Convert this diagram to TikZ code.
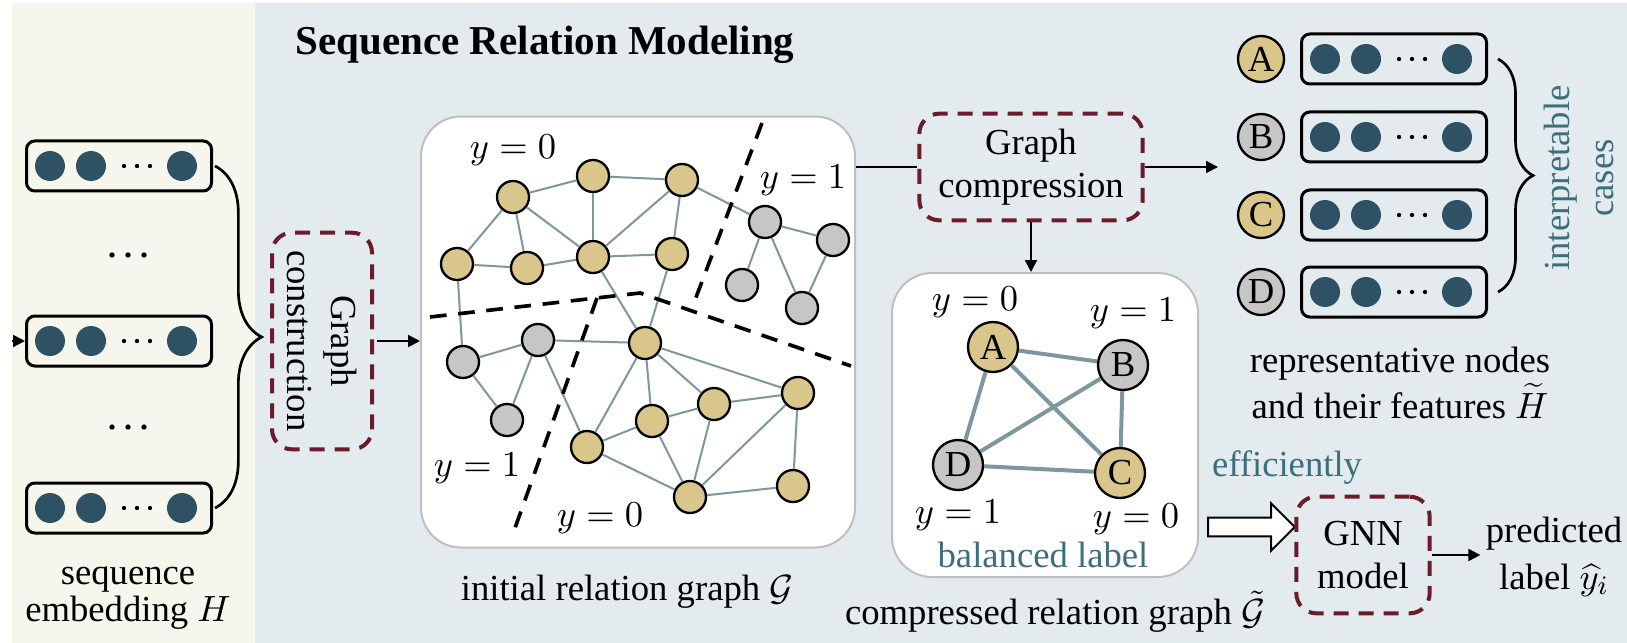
\documentclass[tikz,border=0pt]{standalone}
\usepackage{fontspec}
\setmainfont{Liberation Serif}
\usetikzlibrary{arrows.meta, positioning, calc, decorations.pathreplacing, shapes.arrows}
\definecolor{ccream}{HTML}{F7F6EC}
\definecolor{cpanel}{HTML}{E3EBEE}
\definecolor{cyellow}{HTML}{D9C68A}
\definecolor{cgrey}{HTML}{C6C6C6}
\definecolor{cdot}{HTML}{2E5263}
\definecolor{cedge}{HTML}{7E969D}
\definecolor{cwine}{HTML}{6B1C2B}
\definecolor{cteal}{HTML}{3C6F7C}
\definecolor{cframe}{HTML}{BFBFBF}
\tikzset{
  every picture/.style={x=0.3pt, y=-0.3pt, line width=0.6pt},
  chip/.style={draw, line width=0.9pt, rounded corners=2.5pt, minimum width=55.5pt, minimum height=15pt, inner sep=0pt},
  featdot/.style={circle, fill=cdot, minimum size=9pt, inner sep=0pt},
  gnode/.style={circle, draw, line width=0.7pt, fill=#1, minimum size=9.6pt, inner sep=0pt},
  gnode/.default=cyellow,
  keynode/.style={circle, draw, line width=0.7pt, fill=#1, minimum size=15pt, inner sep=0pt},
  keynode/.default=cyellow,
  rel/.style={draw=cedge, line width=0.6pt},
  cut/.style={line width=1.1pt, dash pattern=on 5pt off 3.5pt},
  dashbox/.style={draw=cwine, line width=1.2pt, dash pattern=on 4.5pt off 3pt, rounded corners=6pt, align=center, inner sep=0pt},
  frame/.style={draw=cframe, fill=white, line width=0.6pt, rounded corners=12pt, inner sep=0pt},
  arrow/.style={-{Triangle[length=3.6pt, width=3.6pt]}, line width=0.6pt},
  hollow/.style={single arrow, draw, fill=white, line width=0.6pt, inner xsep=0pt, inner ysep=2.5pt, single arrow head extend=4.3pt, minimum height=26pt},
  note/.style={text=cteal},
}

\begin{document}
\begin{tikzpicture}[every node/.append style={font=\fontsize{11}{13}\selectfont}]
  \useasboundingbox (0,0) rectangle (1627,643);
  % ---- backdrop panels ----
  \fill[white] (0,0) rectangle (1627,643);
  \fill[ccream] (12,3) rectangle (255,643);
  \fill[cpanel] (255,3) rectangle (1627,643);
  \node[font=\fontsize{12.3}{14}\selectfont\bfseries] (title) at (545,45) {Sequence Relation Modeling};

  % ---- sequence embedding (left) ----
  \node[chip] (e1) at (119,166) {};
  \node[chip] (e2) at (119,341) {};
  \node[chip] (e3) at (119,508) {};
  \foreach \y in {255,427}
    \foreach \x in {112,128,144} \fill (\x,\y) circle (0.8pt);
  \coordinate (feed) at (12,341);
  \draw[arrow] (feed) -- (e2.west);
  \draw[decorate, decoration={brace, amplitude=14pt}, line width=0.8pt] ([xshift=0.6pt]e1.east) -- ([xshift=0.6pt]e3.east);
  \node[align=center, font=\fontsize{11}{11}\selectfont] (seqcap) at (128,598) {sequence\\embedding $H$};

  % ---- graph construction ----
  \node[dashbox, rotate=-90, minimum width=65pt, minimum height=30pt] (constr) at (322,341) {Graph\\construction};

  % ---- initial relation graph ----
  \node[frame, minimum width=130.2pt, minimum height=129.3pt] (gframe) at (638,332) {};
  \draw[arrow] ([xshift=1pt]constr.north) -- (constr.north -| gframe.west);
  % label-0 nodes
  \foreach \n/\x/\y in {p1/513/197, p2/593/176, p3/682/180, p4/457/264, p5/527/268,
                        p6/593/257, p7/672/254, p8/645/343, p9/587/447, p10/652/421,
                        p11/714/404, p12/798/393, p13/690/497, p14/793/486}
    \node[gnode] (\n) at (\x,\y) {};
  % label-1 nodes
  \foreach \n/\x/\y in {q1/765/222, q2/833/240, q3/742/285, q4/802/308,
                        q5/538/340, q6/463/362, q7/507/420}
    \node[gnode=cgrey] (\n) at (\x,\y) {};
  \foreach \a/\b in {p1/p2, p2/p3, p1/p4, p1/p5, p1/p6, p2/p6, p3/p6, p3/p7, p4/p5, p5/p6,
                     p6/p7, p3/q1, q1/q2, q1/q3, q1/q4, q2/q4, p4/q6, q6/q5, q5/q7, q6/q7,
                     q5/p8, q5/p9, p6/p8, p7/p8, p8/p9, p8/p10, p8/p11, p8/p12, p9/p10,
                     p9/p13, p10/p11, p10/p13, p11/p12, p11/p13, p12/p13, p12/p14, p13/p14}
    \draw[rel] (\a) -- (\b);
  % class boundaries
  \draw[cut] (762,123) -- (695,300);
  \draw[cut] (430,317) -- (640,293) -- (851,366);
  \draw[cut] (597,298) -- (515,528);
  \node (l1) at (513,150) {$y = 0$};
  \node (l2) at (803,180) {$y = 1$};
  \node (l3) at (477,468) {$y = 1$};
  \node (l4) at (600,518) {$y = 0$};
  \node (initcap) at (627,592) {initial relation graph $\mathcal{G}$};

  % ---- graph compression ----
  \node[dashbox, minimum width=67pt, minimum height=32pt] (compress) at (1031,167) {Graph\\compression};
  \draw (gframe.east |- compress.west) -- (compress.west);
  \coordinate (repin) at (1218,167);
  \draw[arrow] (compress.east) -- (repin);

  % ---- compressed relation graph ----
  \node[frame, minimum width=91.8pt, minimum height=91.2pt] (cframe) at (1045,425) {};
  \draw[arrow] (compress.south) -- (compress.south |- cframe.north);
  \node[keynode] (cA) at (993,347) {A};
  \node[keynode=cgrey] (cB) at (1123,365) {B};
  \node[keynode] (cC) at (1120,473) {C};
  \node[keynode=cgrey] (cD) at (958,465) {D};
  \foreach \a/\b in {cA/cB, cA/cD, cA/cC, cB/cD, cB/cC, cD/cC}
    \draw[rel, line width=1.2pt] (\a) -- (\b);
  \node (kA) at (975,302) {$y = 0$};
  \node (kB) at (1133,313) {$y = 1$};
  \node (kD) at (958,515) {$y = 1$};
  \node (kC) at (1136,519) {$y = 0$};
  \node[note] (bal) at (1043,555) {balanced label};
  \node (compcap) at (1055,612) {compressed relation graph $\tilde{\mathcal{G}}$};

  % ---- representative nodes and features ----
  \foreach \n/\y/\f in {A/59/cyellow, B/137/cgrey, C/215/cyellow, D/292/cgrey} {
    \node[keynode=\f, minimum size=13.8pt] (r\n) at (1261,\y) {\n};
    \node[chip] (h\n) at (1394,\y) {};
  }
  \foreach \e in {e1,e2,e3,hA,hB,hC,hD} {
    \node[featdot] at ($(\e.west)+(25,0)$) {};
    \node[featdot] at ($(\e.west)+(66,0)$) {};
    \node[featdot] at ($(\e.west)+(157,0)$) {};
    \foreach \d in {99,112,125} \fill ($(\e.west)+(\d,0)$) circle (0.65pt);
  }
  \draw[decorate, decoration={brace, amplitude=10.5pt}, line width=0.8pt] ([xshift=3pt]hA.east) -- ([xshift=3pt]hD.east);
  \node[note, rotate=90, align=center] (interp) at (1579,178) {interpretable\\cases};
  \node[align=center, font=\fontsize{11}{11.4}\selectfont] (repcap) at (1400,383) {representative nodes\\and their features $\widetilde{H}$};

  % ---- downstream GNN ----
  \node[note] (eff) at (1287,468) {efficiently};
  \node[hollow, anchor=tail] (flow) at (1207,527) {};
  \node[dashbox, minimum width=40pt, minimum height=35pt] (gnn) at (1363,555) {GNN\\model};
  \node[align=center, font=\fontsize{11}{14}\selectfont] (pred) at (1554,557) {predicted\\label $\widehat{y}_i$};
  \draw[arrow] (gnn.east) -- ([xshift=2pt]gnn.east -| pred.west);
\end{tikzpicture}
\end{document}
